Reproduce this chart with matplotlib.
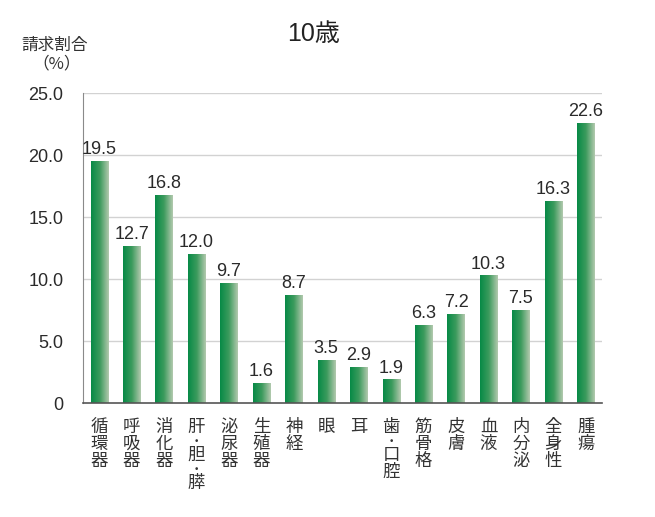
import matplotlib
matplotlib.use("Agg")
import matplotlib.pyplot as plt
import numpy as np
from matplotlib.colors import LinearSegmentedColormap
from matplotlib.transforms import blended_transform_factory, offset_copy

plt.rcParams['font.family'] = ['Noto Sans CJK JP', 'DejaVu Sans']

categories = ["循環器", "呼吸器", "消化器", "肝・胆・膵", "泌尿器", "生殖器", "神経", "眼", "耳",
              "歯・口腔", "筋骨格", "皮膚", "血液", "内分泌", "全身性", "腫瘍"]
values = [19.5, 12.7, 16.8, 12.0, 9.7, 1.6, 8.7, 3.5, 2.9, 1.9, 6.3, 7.2, 10.3, 7.5, 16.3, 22.6]
yticks = [0, 5.0, 10.0, 15.0, 20.0, 25.0]
ytick_labels = ["0", "5.0", "10.0", "15.0", "20.0", "25.0"]
title = "10歳"
ylabel_line1 = "請求割合"
ylabel_line2 = "（%）"

W, H = 655, 517
fig = plt.figure(figsize=(W / 100, H / 100), dpi=100)
ax = fig.add_axes([83 / W, 1 - 403 / H, (602 - 83) / W, (403 - 93) / H])

num_font = ["Liberation Sans"]
n = len(categories)
x = np.arange(n)
width = 0.53
cmap = LinearSegmentedColormap.from_list("g", ["#078a46", "#3d9b5e", "#b2c9ae"])
grad = np.linspace(0, 1, 64).reshape(1, -1)

for yt in yticks[1:]:
    ax.axhline(yt, color="#d2d2d2", lw=1.0, zorder=0)

bars = ax.bar(x, values, width=width, color="none", edgecolor="none", zorder=2)
for b, v in zip(bars, values):
    x0 = b.get_x()
    im = ax.imshow(grad, extent=(x0, x0 + width, 0, v), aspect="auto", cmap=cmap, zorder=2)
    im.set_clip_path(b)
    ax.text(x0 + width / 2, v + 0.22, f"{v:.1f}", ha="center", va="bottom",
            fontsize=13, color="#2a2a2a", family=num_font, zorder=3)

ax.set_xlim(-0.5, n - 0.5)
ax.set_ylim(0, 25)
ax.set_yticks(yticks)
ax.set_yticklabels(ytick_labels, fontsize=13, color="#2a2a2a", family=num_font)
ax.set_xticks(x)
ax.set_xticklabels([])
ax.tick_params(axis="both", length=0)
ax.tick_params(axis="y", pad=14)
for s in ["top", "right"]:
    ax.spines[s].set_visible(False)
ax.spines["left"].set_color("#8a8a8a")
ax.spines["bottom"].set_color("#555555")
ax.spines["bottom"].set_linewidth(1.2)

# vertical category labels, one character per line (centres in pixels below the axis)
trans = blended_transform_factory(ax.transData, ax.transAxes)
for xi, cat in zip(x, categories):
    yc = -24.0
    prev_dot = False
    for i, ch in enumerate(cat):
        is_dot = ch == "・"
        if i > 0:
            yc -= 14 if (is_dot or prev_dot) else 17
        t = offset_copy(trans, fig=fig, x=0, y=yc * 0.72, units="points")
        if is_dot:
            ax.text(xi, 0, "•", transform=t, ha="center", va="center", fontsize=6.5,
                    color="#333333", clip_on=False, family=["DejaVu Sans"])
        else:
            ax.text(xi, 0, ch, transform=t, ha="center", va="center", fontsize=12.5,
                    color="#333333", clip_on=False)
        prev_dot = is_dot

fig.text(314 / W, 1 - 34 / H, title, ha="center", va="center", fontsize=18, color="#222222",
         family=["Liberation Sans", "Noto Sans CJK JP"])
fig.text(55 / W, 1 - 45 / H, ylabel_line1, ha="center", va="center", fontsize=12, color="#333333")
fig.text(57 / W, 1 - 64 / H, ylabel_line2, ha="center", va="center", fontsize=12, color="#333333")

fig.savefig("out.png", dpi=100)
